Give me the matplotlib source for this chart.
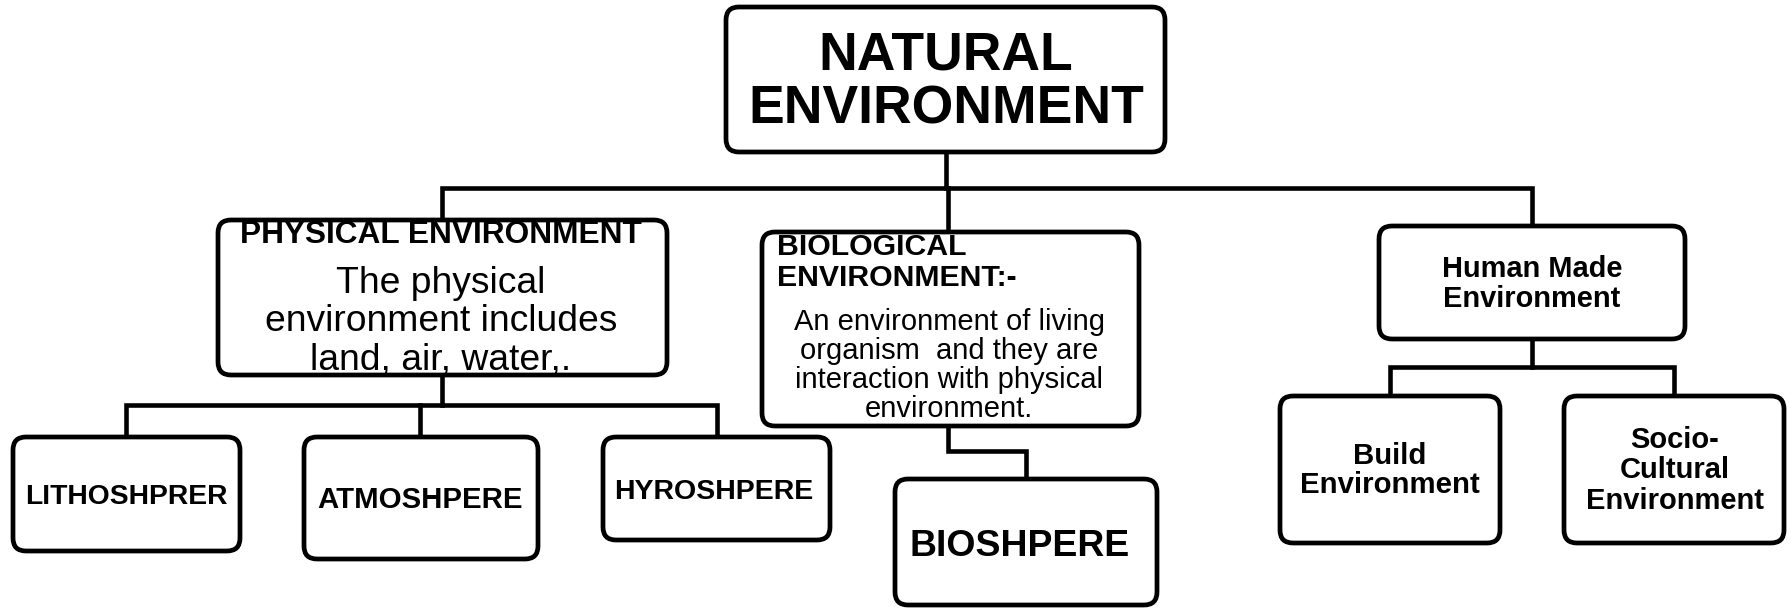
import matplotlib
matplotlib.use('Agg')
import matplotlib.pyplot as plt
from matplotlib.patches import FancyBboxPatch

# boxes: (x0, y0, x1, y1) in pixel units, y grows downward
box_names = ['natural', 'physical', 'biological', 'human',
             'litho', 'atmo', 'hydro', 'bio', 'build', 'socio']
box_rects = [(726, 7, 1165, 152), (218, 220, 667, 375), (762, 232, 1139, 426),
             (1379, 226, 1685, 339), (13, 437, 240, 551), (304, 437, 538, 559),
             (603, 437, 830, 540), (895, 479, 1157, 605), (1280, 396, 1500, 543),
             (1564, 396, 1784, 543)]

# text lines: (box, text, x, baseline y, size, weight, align)
text_lines = [
    ('natural', 'NATURAL', 946, 69, 38.5, 'bold', 'center'),
    ('natural', 'ENVIRONMENT', 946, 124, 38.5, 'bold', 'center'),
    ('physical', 'PHYSICAL ENVIRONMENT', 441, 243, 22.8, 'bold', 'center'),
    ('physical', 'The physical', 441, 293, 26.8, 'normal', 'center'),
    ('physical', 'environment includes', 441, 331, 26.8, 'normal', 'center'),
    ('physical', 'land, air, water,.', 441, 370, 26.8, 'normal', 'center'),
    ('biological', 'BIOLOGICAL', 777, 255, 21.8, 'bold', 'left'),
    ('biological', 'ENVIRONMENT:-', 777, 286, 21.8, 'bold', 'left'),
    ('biological', 'An environment of living', 949, 330, 21, 'normal', 'center'),
    ('biological', 'organism  and they are', 949, 359, 21, 'normal', 'center'),
    ('biological', 'interaction with physical', 949, 388, 21, 'normal', 'center'),
    ('biological', 'environment.', 949, 417, 21, 'normal', 'center'),
    ('human', 'Human Made', 1532, 277, 20.9, 'bold', 'center'),
    ('human', 'Environment', 1532, 307, 20.9, 'bold', 'center'),
    ('litho', 'LITHOSHPRER', 126, 504, 20.3, 'bold', 'center'),
    ('atmo', 'ATMOSHPERE', 420, 508, 21.2, 'bold', 'center'),
    ('hydro', 'HYROSHPERE', 714, 499, 20.5, 'bold', 'center'),
    ('bio', 'BIOSHPERE', 1020, 556, 26.9, 'bold', 'center'),
    ('build', 'Build', 1390, 464, 21.2, 'bold', 'center'),
    ('build', 'Environment', 1390, 493, 21.2, 'bold', 'center'),
    ('socio', 'Socio-', 1675, 448, 21, 'bold', 'center'),
    ('socio', 'Cultural', 1675, 478, 21, 'bold', 'center'),
    ('socio', 'Environment', 1675, 509, 21, 'bold', 'center'),
]

# connector polylines
connectors = [
    [(946, 152), (946, 188)],
    [(442, 220), (442, 188), (1532, 188), (1532, 226)],
    [(948, 188), (948, 232)],
    [(442, 375), (442, 405)],
    [(126, 437), (126, 405), (717, 405), (717, 437)],
    [(420, 405), (420, 437)],
    [(948, 426), (948, 451), (1026, 451), (1026, 479)],
    [(1532, 339), (1532, 367)],
    [(1390, 396), (1390, 367), (1674, 367), (1674, 396)],
]

fig = plt.figure(figsize=(17.91, 6.08), dpi=100)
ax = fig.add_axes([0, 0, 1, 1])
ax.set_xlim(0, 1791)
ax.set_ylim(608, 0)
ax.axis('off')

for pts in connectors:
    xs = [p[0] for p in pts]
    ys = [p[1] for p in pts]
    ax.plot(xs, ys, color='black', lw=3.3, solid_joinstyle='miter', zorder=1)

fills = {}
for name, (x0, y0, x1, y1) in zip(box_names, box_rects):
    style = 'round,pad=0,rounding_size=13'
    fill = FancyBboxPatch((x0, y0), x1 - x0, y1 - y0, boxstyle=style,
                          facecolor='white', edgecolor='none', zorder=2)
    ax.add_patch(fill)
    fills[name] = fill
    # border drawn above the text, as in the reference
    ax.add_patch(FancyBboxPatch((x0, y0), x1 - x0, y1 - y0, boxstyle=style,
                                facecolor='none', edgecolor='black',
                                lw=3.4, zorder=4))

for box, txt, x, y, size, weight, ha in text_lines:
    t = ax.text(x, y, txt, fontsize=size, fontweight=weight, ha=ha,
                va='baseline', family=['Liberation Sans', 'DejaVu Sans'],
                zorder=3)
    t.set_clip_path(fills[box])

fig.savefig('out.png', dpi=100)
